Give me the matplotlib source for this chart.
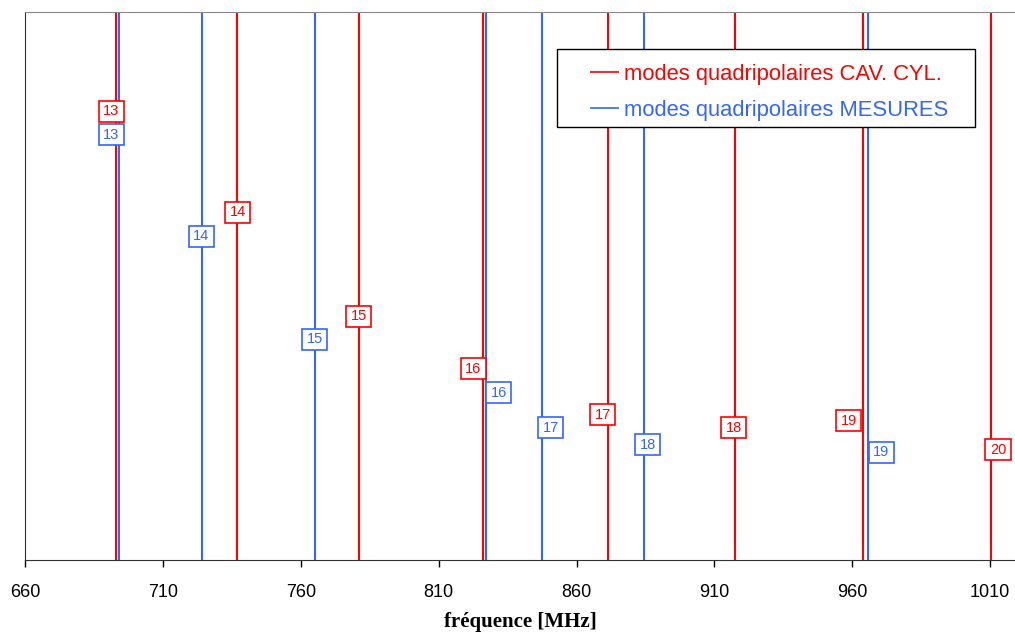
import matplotlib.pyplot as plt
from matplotlib.path import Path
from matplotlib.patches import Rectangle

# mode frequencies [MHz]
cav_modes = [13, 14, 15, 16, 17, 18, 19, 20]
cav_freq = [693.0, 736.8, 781.0, 826.1, 871.3, 917.4, 963.7, 1010.3]
cav_label_y = [0.819, 0.635, 0.445, 0.349, 0.265, 0.241, 0.254, 0.201]

mes_modes = [13, 14, 15, 16, 17, 18, 19]
mes_freq = [694.1, 724.2, 765.0, 827.0, 847.3, 884.4, 965.8]
mes_label_y = [0.776, 0.591, 0.403, 0.305, 0.241, 0.210, 0.197]

# horizontal nudge of the labels (pixels)
cav_dx = [-5, 1, 0, -10, -5, -1, -14, 7]
mes_dx = [-8, -1, 0, 13, 9, 4, 13]

red = '#FF0000'
blue = '#3366FF'

plt.rcParams['font.family'] = ['Liberation Sans', 'DejaVu Sans']

fig = plt.figure(figsize=(10.15, 6.32), dpi=100)
ax = fig.add_axes([25/1015, 72/632, 990/1015, 548/632])

ax.vlines(cav_freq, 0, 1, color=red, lw=1.5, label='modes quadripolaires CAV. CYL.')
ax.vlines(mes_freq, 0, 1, color=blue, lw=1.5, label='modes quadripolaires MESURES')


def label_box(x0, y0, width, height, mutation_size):
    # rectangle with more room left/right than top/bottom
    px = 0.3 * mutation_size
    py = 0.24 * mutation_size
    xa, xb = x0 - px, x0 + width + px
    ya, yb = y0 - py, y0 + height + py
    return Path([(xa, ya), (xb, ya), (xb, yb), (xa, yb), (xa, ya)], closed=True)


def put_labels(freqs, ys, modes, dxs, col):
    for f, y, m, dx in zip(freqs, ys, modes, dxs):
        ax.annotate(str(m), (f, y), xytext=(dx, 0), textcoords='offset pixels',
                    ha='center', va='center', color=col, fontsize=10.5,
                    bbox=dict(boxstyle=label_box, fc='white', ec=col, lw=1.2))

put_labels(cav_freq, cav_label_y, cav_modes, cav_dx, red)
put_labels(mes_freq, mes_label_y, mes_modes, mes_dx, blue)

ax.set_xlim(660, 1019)
ax.set_ylim(0, 1)
ax.set_xticks(range(660, 1011, 50))
ax.tick_params(axis='x', direction='out', length=5, width=1, labelsize=13, pad=12)
ax.set_yticks([])
ax.spines['right'].set_visible(False)
ax.spines['top'].set_color('#888888')
ax.spines['left'].set_color('#333333')
ax.spines['bottom'].set_color('#333333')

ax.set_xlabel('fréquence [MHz]', family='Liberation Serif', fontweight='bold',
              fontsize=15, labelpad=8)

# legend frame drawn separately so its padding can match
ax.add_patch(Rectangle((0.5374, 0.790), 0.4222, 0.1425, transform=ax.transAxes,
                       fc='white', ec='black', lw=1, zorder=4))
leg = ax.legend(loc='upper left', bbox_to_anchor=(0.5707, 0.9052), fontsize=15.8,
                frameon=False, handlelength=1.3, handletextpad=0.27, borderpad=0,
                labelspacing=0.67, borderaxespad=0)
leg.set_zorder(5)
for line in leg.get_lines():
    line.set_linewidth(1.2)
for txt, col in zip(leg.get_texts(), [red, blue]):
    txt.set_color(col)

fig.savefig('out.png', dpi=100)
